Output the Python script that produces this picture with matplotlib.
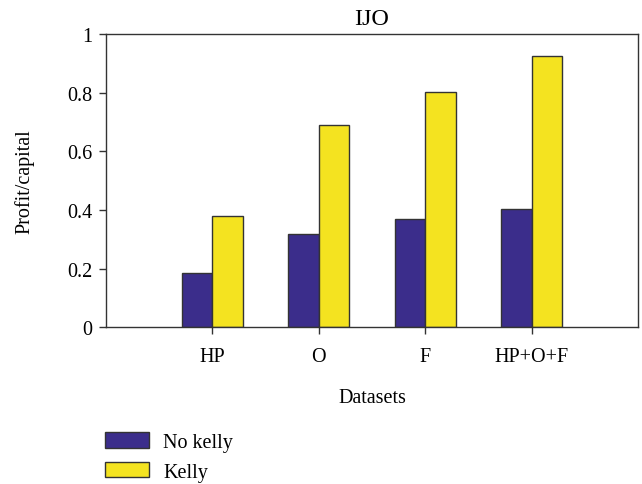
""" IJO - profit/capital by dataset, with and without kelly
"""
import numpy as np
import matplotlib.pyplot as plt

datasets = ['HP', 'O', 'F', 'HP+O+F']
no_kelly = [0.185, 0.318, 0.368, 0.402]
kelly = [0.378, 0.690, 0.803, 0.926]

plt.rcParams['font.family'] = ['Liberation Serif', 'DejaVu Serif']
plt.rcParams['font.size'] = 14.5

fig = plt.figure(figsize=(6.42, 4.85), dpi=100)
ax = fig.add_axes([0.165, 0.323, 0.829, 0.605])

x = np.arange(1, len(datasets) + 1)
w = 0.288
ax.bar(x - w / 2, no_kelly, w, color='#3b2d8b', edgecolor='#333333',
       linewidth=1, label='No kelly')
ax.bar(x + w / 2, kelly, w, color='#f4e320', edgecolor='#333333',
       linewidth=1, label='Kelly')

ax.set_xlim(0, 5)
ax.set_ylim(0, 1)
ax.set_xticks(x)
ax.set_xticklabels(datasets)
ax.set_yticks([0, 0.2, 0.4, 0.6, 0.8, 1])
ax.set_yticklabels(['0', '0.2', '0.4', '0.6', '0.8', '1'])
ax.tick_params(direction='out', length=5, width=1, color='#333333')
ax.tick_params(axis='x', pad=9)
ax.tick_params(axis='y', pad=5)
for s in ax.spines.values():
    s.set_color('#333333')
    s.set_linewidth(1)

ax.set_title('IJO', pad=7)
ax.set_xlabel('Datasets', labelpad=16)
ax.set_ylabel('Profit/capital', labelpad=23)

fig.legend(loc='upper left', bbox_to_anchor=(0.163, 0.107), frameon=False,
           handlelength=2.2, handleheight=0.8, labelspacing=0.5,
           handletextpad=0.7, borderaxespad=0, borderpad=0)

fig.savefig('out.png', dpi=100)
